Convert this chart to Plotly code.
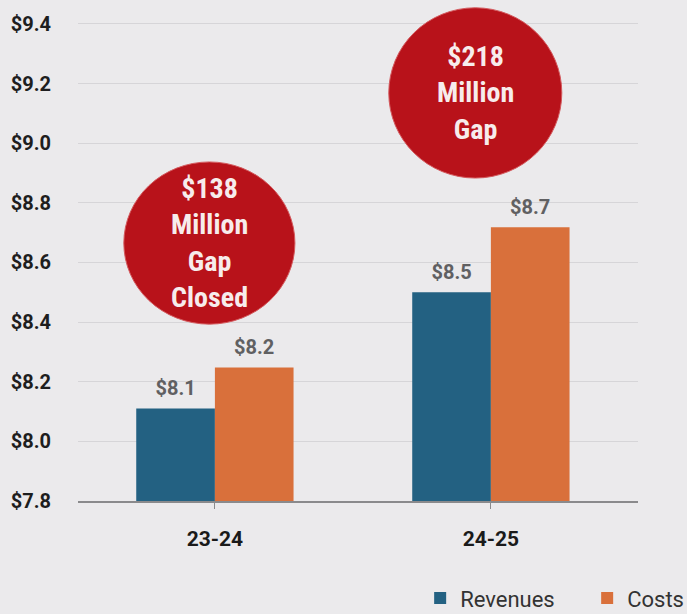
import plotly.graph_objects as go

categories = ["23-24", "24-25"]
revenues = [8.11, 8.50]
costs = [8.248, 8.718]
gap_labels = ["$138<br>Million<br>Gap<br>Closed", "$218<br>Million<br>Gap"]
y_ticks = [7.8, 8.0, 8.2, 8.4, 8.6, 8.8, 9.0, 9.2, 9.4]
y_tick_text = ["$%.1f" % v for v in y_ticks]

BG = "#EBEAEC"
BLUE = "#236182"
ORANGE = "#D9703B"
RED = "#B8121A"
COND = "Roboto Condensed, Roboto, Liberation Sans, sans-serif"
FONT = "Roboto, Liberation Sans, sans-serif"
LABEL_FONT = dict(family=FONT, size=20, color="#606062", weight="bold")

fig = go.Figure()
fig.add_trace(go.Bar(
    x=categories, y=revenues, name="Revenues",
    marker=dict(color=BLUE, line=dict(width=0)),
))
fig.add_trace(go.Bar(
    x=categories, y=costs, name="Costs",
    marker=dict(color=ORANGE, line=dict(width=0)),
))
# value labels above the bars, grouped like the bars
for vals in (revenues, costs):
    fig.add_trace(go.Scatter(
        x=categories, y=vals, mode="markers+text", showlegend=False, hoverinfo="skip",
        text=["$%.1f" % v for v in vals], textposition="top center",
        textfont=LABEL_FONT, cliponaxis=False,
        marker=dict(size=12, color="rgba(0,0,0,0)", line=dict(width=0)),
    ))

# Gap circles (decorations)
circles = [
    dict(x0=-0.330, x1=0.290, y0=8.393, y1=8.937),
    dict(x0=0.630, x1=1.257, y0=8.883, y1=9.454),
]
for c, txt in zip(circles, gap_labels):
    fig.add_shape(type="circle", xref="x", yref="y", layer="above",
                  x0=c["x0"], x1=c["x1"], y0=c["y0"], y1=c["y1"],
                  fillcolor=RED, line=dict(color="#D45A5E", width=1))
    fig.add_annotation(x=(c["x0"] + c["x1"]) / 2, y=(c["y0"] + c["y1"]) / 2,
                       xref="x", yref="y", text=txt, showarrow=False,
                       font=dict(family=COND, size=28, color="#F7ECEC", weight="bold"),
                       align="center")

fig.update_layout(
    width=687, height=614,
    margin=dict(l=78, r=49, t=3, b=113, autoexpand=False),
    paper_bgcolor=BG, plot_bgcolor=BG,
    barmode="group", bargap=0.43, bargroupgap=0,
    scattermode="group", scattergap=0.43,
    showlegend=True,
    legend=dict(orientation="h", x=0.611, xanchor="left", y=-0.153, yanchor="top",
                font=dict(family=FONT, size=22, color="#333333"),
                entrywidth=122, entrywidthmode="pixels",
                bgcolor="rgba(0,0,0,0)", traceorder="normal"),
    font=dict(family=FONT),
)
fig.update_xaxes(
    range=[-0.496, 1.533],
    showgrid=False, showline=True, linecolor="#8A8A8C", linewidth=2,
    ticks="outside", ticklen=6, tickcolor="#8A8A8C", tickwidth=1,
    tickfont=dict(family=FONT, size=21, color="#1A1A1A", weight="bold"),
    ticklabelstandoff=12,
)
fig.update_yaxes(
    range=[7.8, 9.47], tickmode="array", tickvals=y_ticks, ticktext=y_tick_text,
    showgrid=True, gridcolor="#D6D5D8", gridwidth=1,
    zeroline=False, showline=False,
    tickfont=dict(family=FONT, size=20, color="#1E1E1E", weight="bold"),
    ticklabelstandoff=26,
)

fig.write_html("out.html")
